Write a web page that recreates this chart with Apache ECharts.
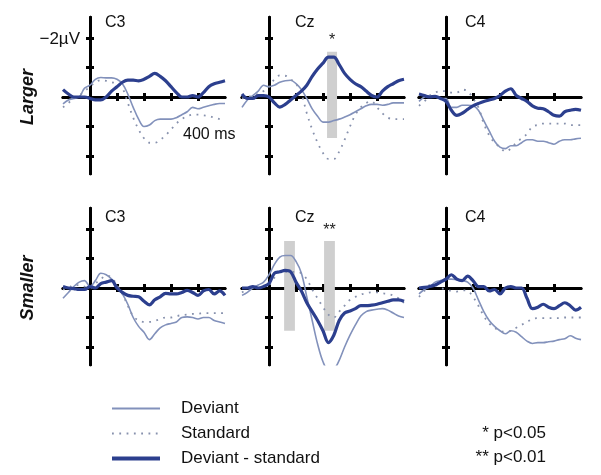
<!DOCTYPE html>
<html>
<head>
<meta charset="utf-8">
<script src="https://cdn.jsdelivr.net/npm/echarts@6/dist/echarts.min.js"></script>
<style>html,body{margin:0;padding:0;background:#fff}#chart{width:601px;height:475px}</style>
</head>
<body>
<div id="chart"></div>
<script>
// Time points (ms)
const times = [-100,-80,-60,-40,-20,0,20,40,60,80,100,120,140,160,180,200,220,240,260,280,300,320,340,360,380,400,420,440,460,480,500];
// Values in µV (negative plotted upward)
const c3LargerDev  = [0.23,0.1,0.05,0.0,-0.3,-0.4,-0.6,-0.66,-0.65,-0.65,-0.6,-0.45,-0.1,0.35,0.75,1.0,0.95,0.8,0.75,0.75,0.75,0.7,0.6,0.5,0.35,0.4,0.35,0.3,0.25,0.22,0.22];
const c3LargerStd  = [0.35,0.2,0.05,-0.05,-0.2,-0.35,-0.5,-0.57,-0.55,-0.5,-0.45,-0.3,0.2,0.7,1.1,1.4,1.55,1.55,1.45,1.3,1.1,0.9,0.75,0.65,0.6,0.6,0.62,0.65,0.7,0.75,0.8];
const c3LargerDiff = [-0.25,-0.1,0.0,0.0,0.0,0.05,0.1,0.1,0.0,-0.2,-0.35,-0.5,-0.57,-0.57,-0.55,-0.6,-0.7,-0.8,-0.7,-0.55,-0.35,-0.15,0.0,0.0,-0.05,0.0,-0.15,-0.35,-0.45,-0.5,-0.55];

const czLargerDev  = [0.35,0.1,-0.05,-0.2,-0.4,-0.35,-0.4,-0.5,-0.55,-0.57,-0.45,-0.25,0.05,0.4,0.65,0.85,0.85,0.8,0.75,0.68,0.6,0.5,0.4,0.3,0.25,0.25,0.28,0.25,0.2,0.2,0.2];
const czLargerStd  = [0.05,0.0,-0.05,-0.1,-0.2,-0.35,-0.6,-0.73,-0.72,-0.6,-0.45,-0.1,0.55,1.1,1.55,1.9,2.1,2.1,1.85,1.45,1.0,0.6,0.35,0.2,0.15,0.35,0.55,0.7,0.75,0.75,0.75];
const czLargerDiff = [-0.1,0.05,0.05,-0.05,-0.05,0.0,0.2,0.34,0.25,0.1,-0.05,-0.2,-0.4,-0.7,-0.95,-1.15,-1.35,-1.35,-1.1,-0.8,-0.6,-0.45,-0.35,-0.2,-0.05,0.0,-0.2,-0.35,-0.45,-0.55,-0.6];

const c4LargerDev  = [0.15,0.0,-0.05,0.0,0.05,0.05,0.35,0.35,0.28,0.28,0.3,0.45,0.8,1.15,1.5,1.7,1.75,1.65,1.65,1.55,1.45,1.45,1.5,1.5,1.55,1.6,1.5,1.45,1.45,1.42,1.4];
const c4LargerStd  = [0.3,0.15,-0.05,-0.15,-0.2,-0.2,-0.15,-0.15,-0.25,-0.2,0.05,0.35,0.9,1.3,1.55,1.7,1.85,1.75,1.55,1.4,1.25,1.0,0.95,0.9,0.9,0.9,0.9,0.9,0.95,0.95,0.95];
const c4LargerDiff = [-0.1,-0.05,0.0,-0.02,0.05,0.15,0.45,0.62,0.55,0.42,0.3,0.22,0.15,0.1,0.05,-0.05,-0.2,-0.28,-0.05,0.05,0.15,0.3,0.38,0.4,0.5,0.62,0.65,0.5,0.45,0.42,0.45];

const c3SmallerDev  = [0.35,0.15,-0.05,-0.2,-0.25,-0.05,-0.25,-0.5,-0.45,-0.3,-0.05,0.2,0.55,1.0,1.3,1.5,1.75,1.55,1.35,1.25,1.2,1.15,1.0,0.98,1.0,1.05,1.0,1.0,1.1,1.15,1.2];
const c3SmallerStd  = [0.05,0.0,-0.1,-0.1,-0.05,0.0,-0.15,-0.3,-0.42,-0.35,-0.1,0.2,0.6,0.95,1.1,1.15,1.15,1.12,1.05,1.0,1.0,0.95,0.92,0.9,0.88,0.87,0.85,0.85,0.85,0.85,0.85];
const c3SmallerDiff = [-0.05,0.0,0.02,0.05,0.05,-0.05,0.0,-0.15,-0.2,-0.25,0.0,0.15,0.25,0.28,0.3,0.45,0.57,0.4,0.3,0.18,0.2,0.2,0.15,0.08,0.15,0.25,0.1,0.05,0.2,0.1,0.25];

const czSmallerDev  = [0.25,0.15,0.0,-0.1,-0.2,-0.45,-0.8,-1.05,-1.1,-1.1,-0.9,-0.5,0.3,1.1,1.9,2.5,2.78,2.75,2.45,2.0,1.6,1.25,0.95,0.8,0.75,0.72,0.7,0.75,0.85,0.95,1.0];
const czSmallerStd  = [0.15,0.05,0.0,-0.05,-0.05,-0.1,-0.35,-0.55,-0.55,-0.55,-0.55,-0.5,-0.3,0.05,0.35,0.65,0.9,1.0,0.8,0.6,0.4,0.3,0.22,0.18,0.15,0.15,0.18,0.2,0.25,0.35,0.5];
const czSmallerDiff = [0.0,0.0,-0.05,0.0,-0.05,-0.15,-0.5,-0.55,-0.6,-0.55,-0.2,0.1,0.5,0.8,1.1,1.45,1.85,1.6,1.1,0.85,0.78,0.7,0.6,0.6,0.58,0.55,0.5,0.45,0.4,0.4,0.45];

const c4SmallerDev  = [0.2,0.05,-0.05,-0.2,-0.25,-0.3,-0.3,-0.28,-0.25,-0.2,0.0,0.4,0.8,1.1,1.3,1.45,1.55,1.45,1.5,1.65,1.8,1.88,1.85,1.85,1.82,1.8,1.75,1.72,1.62,1.7,1.75];
const c4SmallerStd  = [0.3,0.1,-0.1,-0.1,0.0,0.05,0.1,0.12,0.08,0.1,0.3,0.6,0.95,1.2,1.35,1.45,1.48,1.45,1.35,1.25,1.15,1.05,1.02,1.02,1.02,1.02,1.02,1.0,1.0,1.0,1.0];
const c4SmallerDiff = [0.0,-0.02,-0.05,-0.1,-0.2,-0.3,-0.45,-0.3,-0.25,-0.4,-0.25,-0.05,-0.05,0.1,0.05,0.2,0.0,-0.05,0.0,0.0,0.35,0.7,0.65,0.55,0.65,0.7,0.6,0.5,0.6,0.75,0.65];

// Significance windows: [start ms, end ms, top µV, bottom µV, mark]
const czLargerBars  = [[215, 252, -1.53, 1.39, '*']];
const czSmallerBars = [[56, 96, -1.59, 1.45, ''], [204, 244, -1.59, 1.45, '**']];

const electrodes = ['C3', 'Cz', 'C4'];
const conditions = ['Larger', 'Smaller'];
const seriesNames = ['Deviant', 'Standard', 'Deviant - standard'];
const yTicks = [-2, -1, 1, 2];
const xTicks = [100, 200, 300, 400];
const significance = ['* p<0.05', '** p<0.01'];

const panelData = [
  [c3LargerDev, c3LargerStd, c3LargerDiff, []],
  [czLargerDev, czLargerStd, czLargerDiff, czLargerBars],
  [c4LargerDev, c4LargerStd, c4LargerDiff, []],
  [c3SmallerDev, c3SmallerStd, c3SmallerDiff, []],
  [czSmallerDev, czSmallerStd, czSmallerDiff, czSmallerBars],
  [c4SmallerDev, c4SmallerStd, c4SmallerDiff, []]
];

// layout
const colZeroX = [90, 269, 446];
const rowZeroY = [97, 288];
const pxPerMs = 0.27;
const pxPerUv = 29.5;
const xMin = -100, xMax = 500, yMin = -2.7, yMax = 2.6;
const FONT = 'Liberation Sans, Arial, Helvetica, sans-serif';
const devColor = '#8291bb', stdColor = '#8791ad', diffColor = '#2c3f8e';

const grid = [], xAxis = [], yAxis = [], series = [], title = [];
const titleX = [[100, 290, 460], [100, 290, 460]];
const titleY = [10, 205];

panelData.forEach((pd, i) => {
  const row = Math.floor(i / 3), col = i % 3;
  const x0 = colZeroX[col], y0 = rowZeroY[row];
  grid.push({
    left: x0 + xMin * pxPerMs,
    top: y0 + yMin * pxPerUv,
    width: (xMax - xMin) * pxPerMs,
    height: (yMax - yMin) * pxPerUv
  });
  // two x axes and two y axes per grid for crossing tick marks
  [false, true].forEach((inside) => {
    xAxis.push({
      gridIndex: i, type: 'value', min: xMin, max: xMax, position: 'bottom',
      axisLine: { onZero: true, lineStyle: { color: '#000', width: 3 } },
      axisTick: { show: true, inside: inside, length: 4, customValues: xTicks, lineStyle: { color: '#000', width: 3 } },
      axisLabel: { show: false }, splitLine: { show: false }
    });
    yAxis.push({
      gridIndex: i, type: 'value', min: yMin, max: yMax, inverse: true, position: 'left',
      axisLine: { onZero: true, lineStyle: { color: '#000', width: 3 } },
      axisTick: { show: true, inside: inside, length: 4, customValues: yTicks, lineStyle: { color: '#000', width: 3 } },
      axisLabel: { show: false },
      splitLine: { show: false }
    });
  });
  const xi = i * 2, yi = i * 2;
  const toPairs = (arr) => times.map((t, k) => [t, arr[k]]);
  const bars = pd[3];
  series.push({
    name: seriesNames[0], type: 'line', xAxisIndex: xi, yAxisIndex: yi, data: toPairs(pd[0]),
    symbol: 'none', smooth: 0.35, lineStyle: { color: devColor, width: 1.6 }, itemStyle: { color: devColor }, z: 3,
    markArea: bars.length ? {
      silent: true,
      itemStyle: { color: '#cfcfcf' },
      label: { show: true, position: 'top', distance: 3, formatter: (p) => p.name, color: '#222', fontSize: 16, fontFamily: FONT },
      data: bars.map(b => [{ name: b[4], coord: [b[0], b[2]] }, { coord: [b[1], b[3]] }])
    } : undefined
  });
  series.push({
    name: seriesNames[1], type: 'line', xAxisIndex: xi, yAxisIndex: yi, data: toPairs(pd[1]),
    symbol: 'none', smooth: 0.35, lineStyle: { color: stdColor, width: 1.8, type: [1.8, 5.5] }, itemStyle: { color: stdColor }, z: 3
  });
  series.push({
    name: seriesNames[2], type: 'line', xAxisIndex: xi, yAxisIndex: yi, data: toPairs(pd[2]),
    symbol: 'none', smooth: 0.35, lineStyle: { color: diffColor, width: 3.2 }, itemStyle: { color: diffColor }, z: 4
  });
  title.push({
    text: electrodes[col], left: titleX[row][col], top: titleY[row],
    textStyle: { fontSize: 16, fontWeight: 'normal', color: '#111', fontFamily: FONT }
  });
});

const chart = echarts.init(document.getElementById('chart'), null, { renderer: 'canvas' });
chart.setOption({
  animation: false,
  backgroundColor: '#fff',
  title: title,
  grid: grid, xAxis: xAxis, yAxis: yAxis, series: series,
  legend: {
    data: [
      { name: seriesNames[0], lineStyle: { width: 1.8 } },
      { name: seriesNames[1], lineStyle: { width: 1.8 } },
      { name: seriesNames[2], lineStyle: { width: 4 } }
    ],
    orient: 'vertical', left: 110, top: 400, height: 75, padding: 0,
    itemWidth: 48, itemHeight: 16, itemGap: 8, selectedMode: false,
    itemStyle: { opacity: 0, borderWidth: 0 },
    textStyle: { fontSize: 17, lineHeight: 16, color: '#111', fontFamily: FONT, padding: [0, 0, 0, 16] }
  },
  graphic: [
    { type: 'text', x: 28, y: rowZeroY[0], rotation: Math.PI / 2,
      style: { text: conditions[0], fontSize: 18, fontWeight: 'bold', fontStyle: 'italic', fontFamily: FONT, fill: '#111', align: 'center', verticalAlign: 'middle' } },
    { type: 'text', x: 28, y: rowZeroY[1], rotation: Math.PI / 2,
      style: { text: conditions[1], fontSize: 18, fontWeight: 'bold', fontStyle: 'italic', fontFamily: FONT, fill: '#111', align: 'center', verticalAlign: 'middle' } },
    { type: 'text', x: 80, y: 39,
      style: { text: '\u2212' + Math.abs(yTicks[0]) + '\u00b5V', fontSize: 17, fontFamily: FONT, fill: '#111', align: 'right', verticalAlign: 'middle' } },
    { type: 'text', x: 183, y: 135,
      style: { text: xTicks[3] + ' ms', fontSize: 16, fontFamily: FONT, fill: '#111', align: 'left', verticalAlign: 'middle' } },
    { type: 'text', x: 546, y: 433,
      style: { text: significance[0], fontSize: 17, fontFamily: FONT, fill: '#111', align: 'right', verticalAlign: 'middle' } },
    { type: 'text', x: 546, y: 457,
      style: { text: significance[1], fontSize: 17, fontFamily: FONT, fill: '#111', align: 'right', verticalAlign: 'middle' } }
  ]
});
</script>
</body>
</html>
